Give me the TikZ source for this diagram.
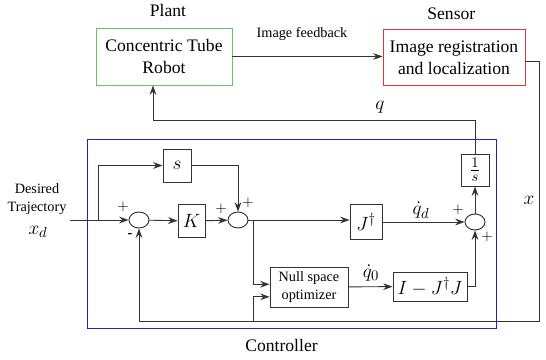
\documentclass[tikz,border=0pt]{standalone}
\usepackage{amsmath}
\usepackage{fontspec}
\setmainfont{Liberation Serif}
\usetikzlibrary{shapes.geometric, arrows.meta}
\newcommand{\bigtxt}{\fontsize{13.2}{16.5}\selectfont}
\newcommand{\smalltxt}{\fontsize{10.7}{13.5}\selectfont}
\newcommand{\mathtxt}{\fontsize{15}{18}\selectfont}
\definecolor{plantgreen}{RGB}{100,195,100}
\definecolor{sensorred}{RGB}{215,60,60}
\definecolor{ctrlblue}{RGB}{35,35,195}
\tikzset{every picture/.append style={x=0.75pt, y=-0.75pt}}
\tikzset{every label/.append style={font=\bigtxt, inner sep=2pt}}
\tikzset{
    blk/.style={draw=black!80, line width=0.7pt, inner sep=1pt, font=\mathtxt},
    sum/.style={ellipse, draw=black!80, line width=0.7pt, minimum width=15pt,
    	minimum height=12pt, inner sep=0pt},
    sgn/.style={inner sep=0pt, font=\smalltxt},
    sig/.style={-{Stealth[length=7pt, width=5pt]}, draw=black!80, line width=0.7pt}
}

\begin{document}
\begin{tikzpicture}
  \useasboundingbox (0,0) rectangle (546,360);

  \node (plant) [draw=plantgreen, line width=0.7pt, font=\bigtxt, align=center,
  	minimum width=102pt, minimum height=42.75pt,
  	label={[label distance=6pt, xshift=3pt]above:{Plant}}] at (164,56.5) {Concentric Tube\\Robot};
  \node (sensor) [draw=sensorred, line width=0.7pt, font=\bigtxt, align=center,
  	minimum width=106.5pt, minimum height=42pt,
  	label={[label distance=5pt, xshift=-2pt]above:{Sensor}}] at (454,57.5) {Image registration\\and localization};
  \node (fb) [sgn] at (302,34) {Image feedback};

  \node (ctrl) [draw=ctrlblue, line width=0.7pt, minimum width=306.75pt, minimum height=141.75pt,
  	label={[label distance=6pt, xshift=-7.5pt]below:{Controller}}] at (291.5,233.5) {};

  \node (din) [sgn, align=center] at (37,199.5) {Desired\\Trajectory};
  \node (xd) [inner sep=0pt, font=\mathtxt] at (38,232) {$x_d$};

  \node (sum1) [sum] at (139,220) {};
  \node (sum2) [sum] at (238,220) {};
  \node (sum3) [sum] at (475,222) {};
  \node (bS) [blk, minimum width=21pt, minimum height=24.75pt] at (177,165.5) {$s$};
  \node (bK) [blk, minimum width=20.25pt, minimum height=24.75pt] at (191.5,221) {$K$};
  \node (bJ) [blk, minimum width=24pt, minimum height=26.25pt] at (366,221.5) {$J^\dagger$};
  \node (bN) [blk, font=\smalltxt, align=center, minimum width=58.5pt,
  	minimum height=30pt] at (309,287) {Null space\\optimizer};
  \node (bI) [blk, minimum width=55.5pt, minimum height=21.75pt] at (430,286.5) {$I-J^\dagger J$};
  \node (bInt) [blk, minimum width=21pt, minimum height=24pt] at (475,170) {$\frac{1}{s}$};

  \coordinate (xin) at (70,220);
  \coordinate (br0) at (98,220);
  \coordinate (br1) at (253,220);
  \coordinate (br2) at (253,321);
  \coordinate (qc) at (153,120);
  \coordinate (xc) at (539,321);
  \coordinate (xs) at (525,61);

  % signs and signal labels
  \node [sgn] at (123,207) {$+$};
  \node [sgn] at (130,236) {\textbf{-}};
  \node [sgn] at (221,209) {$+$};
  \node [sgn] at (248,203) {$+$};
  \node [sgn] at (458,210) {$+$};
  \node [sgn] at (487,237) {$+$};
  \node (qd) [inner sep=0pt, font=\mathtxt] at (421,210) {$\dot q_d$};
  \node (q0) [inner sep=0pt, font=\mathtxt] at (371,273) {$\dot q_0$};
  \node (q) [inner sep=0pt, font=\mathtxt] at (380,107) {$q$};
  \node (x) [inner sep=0pt, font=\mathtxt] at (529,200) {$x$};

  \draw [sig] (plant.east) -- (plant.east -| sensor.west);
  \draw [sig] (xin) -- (sum1);
  \draw [sig] (br0) |- (bS);
  \draw [sig] (bS) -| (sum2);
  \draw [sig] (sum1) -- (bK);
  \draw [sig] (bK) -- (sum2);
  \draw [sig] (sum2) -- (bJ.west |- sum2);
  \draw [sig] (bJ.east |- sum3) -- (sum3);
  \draw [sig] (br1) |- (bN.176);
  \draw [sig] (br2) |- (bN.194);
  \draw [sig] (bN) -- (bI);
  \draw [sig] (bI) -| (sum3);
  \draw [sig] (sum3) -- (bInt);
  \draw [sig] (bInt) |- (qc) -- (qc |- plant.south);
  \draw [sig] (xs) -| (xc) -| (sum1);

\end{tikzpicture}
\end{document}
